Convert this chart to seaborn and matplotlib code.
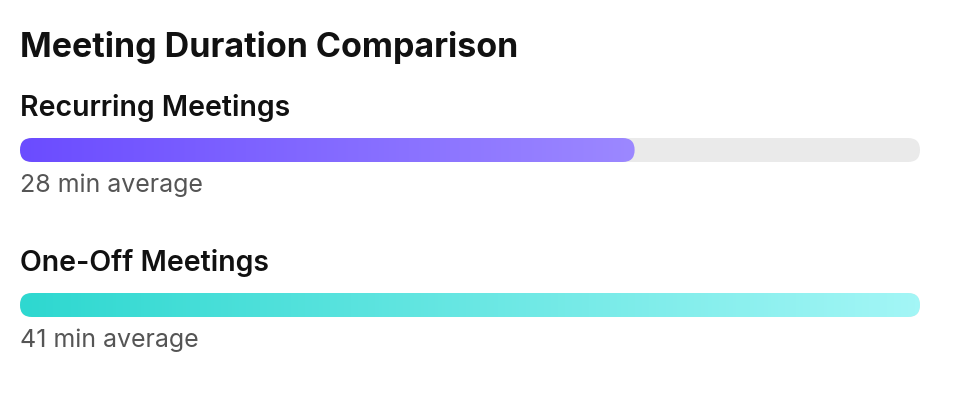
import numpy as np
import pandas as pd
import seaborn as sns
import matplotlib.pyplot as plt
from matplotlib.patches import FancyBboxPatch
from matplotlib.colors import LinearSegmentedColormap

# data
meetings = ["Recurring Meetings", "One-Off Meetings"]
avg_minutes = [28, 41]
captions = ["28 min average", "41 min average"]
scale_max = 41
gradients = [("#6b4cff", "#9c88ff"), ("#2ed8d0", "#a3f6f6")]

sns.set_theme(style="white")
plt.rcParams['font.family'] = ['Inter', 'DejaVu Sans']

W, H = 964, 420
fig = plt.figure(figsize=(W / 100, H / 100), dpi=100)
ax = fig.add_axes([20 / W, 0, 900 / W, 1])

# layout in pixels
row_px = 155
bar_px = 24
first_px = 150
bw = bar_px / row_px

df = pd.DataFrame({"meeting": meetings, "minutes": avg_minutes, "track": scale_max})

# grey track, then the value bars
sns.barplot(data=df, x="track", y="meeting", color="#eaeaea", width=bw, orient="h", ax=ax)
sns.barplot(data=df, x="minutes", y="meeting", color="#6b4cff", width=bw, orient="h", ax=ax)

ylim = ((H - first_px) / row_px, -first_px / row_px)
ax.set_xlim(0, scale_max)
ax.set_ylim(*ylim)

x_per_px = scale_max / 900
aspect = (1 / row_px) / x_per_px
radius = bar_px / 2 * x_per_px

patches = list(ax.patches)
n = len(meetings)
for k, p in enumerate(patches):
    x0, y0, w, h = p.get_x(), p.get_y(), p.get_width(), p.get_height()
    p.remove()
    rounded = FancyBboxPatch((x0, y0), w, h,
                             boxstyle=f"round,pad=0,rounding_size={radius}",
                             mutation_aspect=aspect, linewidth=0,
                             facecolor="#eaeaea" if k < n else "none")
    ax.add_patch(rounded)
    if k >= n:
        i = k - n
        cmap = LinearSegmentedColormap.from_list(f"g{i}", gradients[i])
        im = ax.imshow(np.linspace(0, 1, 256).reshape(1, -1), cmap=cmap,
                       extent=[x0, x0 + w, y0 + h, y0], aspect="auto",
                       interpolation="bilinear", zorder=3)
        im.set_clip_path(rounded)

ax.set_xlim(0, scale_max)
ax.set_ylim(*ylim)
ax.axis("off")

for i, (name, cap) in enumerate(zip(meetings, captions)):
    ax.text(0, i - 42 / row_px, name, va="center", ha="left",
            fontsize=20.5, fontweight="semibold", color="#111111")
    ax.text(0, i + 35 / row_px, cap, va="center", ha="left",
            fontsize=18, color="#555555")

fig.text(20 / W, 1 - 47 / H, "Meeting Duration Comparison", va="center", ha="left",
         fontsize=24.5, fontweight="bold", color="#111111")

fig.savefig("out.png", dpi=100)
